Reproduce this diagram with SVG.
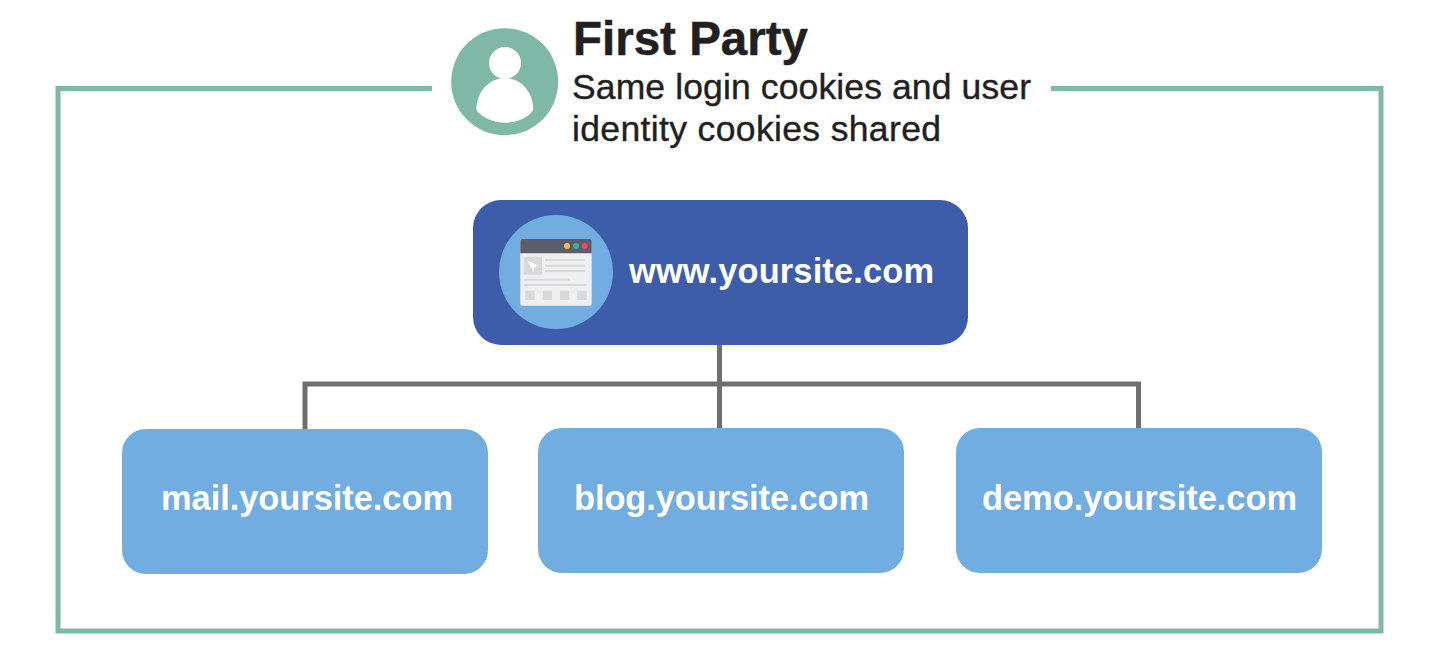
<svg xmlns="http://www.w3.org/2000/svg" width="1440" height="653" viewBox="0 0 1440 653">
<style>
text{font-family:"Liberation Sans",Arial,sans-serif}
.t{font-size:35.500px;fill:#231f20;stroke:#231f20;stroke-width:0.400px}
.l{font-size:34.400px;font-weight:700;fill:#fff}
.c{fill:none;stroke:#6f6f6f;stroke-width:5}
.b{fill:#71ade0}
.f{fill:#d9d8dc}
.g{fill:none;stroke:#d9d8dc;stroke-width:2}
</style>
<rect width="1440" height="653" fill="#fff"/>
<path id="frame" d="M432 88.500H58V631H1381V88.500H1051" fill="none" stroke="#80b8a8" stroke-width="5"/>
<g id="first-party">
<circle cx="504.700" cy="81.700" r="53.500" fill="#80b8a8"/>
<circle cx="505" cy="63" r="16" fill="#fff"/>
<path d="M476.300 110C476.300 92 489 78 505 78S533.300 92 533.300 110C528 118 516 122.700 505 122.700S482 118 476.300 110Z" fill="#fff"/>
<text x="573" y="55" font-size="47.500" font-weight="700" fill="#231f20" stroke="#231f20" stroke-width="0.500">First Party</text>
<text class="t" x="572" y="99" textLength="459">Same login cookies and user</text>
<text class="t" x="572" y="141" textLength="369">identity cookies shared</text>
</g>
<g id="connectors">
<path class="c" d="M719.500 345V428M305 430V384H1138.500V429"/>
</g>
<g id="www">
<rect x="473" y="200" width="495" height="145" rx="28" fill="#3d5daa"/>
<circle class="b" cx="556" cy="272" r="57"/>
<rect x="520.300" y="239" width="71.400" height="66.700" rx="2" fill="#efeff0"/>
<path d="M520.300 253.300V241a2 2 0 0 1 2-2H589.700a2 2 0 0 1 2 2V253.300Z" fill="#5b5c6c"/>
<circle cx="567" cy="246" r="3" fill="#f5bd4f"/>
<circle cx="576" cy="246" r="3" fill="#2fb5a0"/>
<circle cx="584.700" cy="246" r="3" fill="#ee4a60"/>
<rect class="f" x="523.700" y="256.700" width="18.300" height="18"/>
<path d="M527.500 260.500L538 265.500L534 267.500L533.500 272Z" fill="#fff"/>
<path class="g" d="M545 260H585M545 265.700H585M545 271H585M524 279.700H570M524 285H587"/>
<rect class="f" x="525.300" y="290.700" width="9.300" height="9.300"/>
<rect class="f" x="542.700" y="290.700" width="9.300" height="9.300"/>
<rect class="f" x="560" y="290.700" width="9.300" height="9.300"/>
<rect class="f" x="577.300" y="290.700" width="9.300" height="9.300"/>
<text class="l" x="629" y="283" textLength="305">www.yoursite.com</text>
</g>
<g id="mail">
<rect class="b" x="122" y="429" width="366" height="145" rx="24"/>
<text class="l" x="161" y="510" textLength="292">mail.yoursite.com</text>
</g>
<g id="blog">
<rect class="b" x="538" y="428" width="366" height="145" rx="24"/>
<text class="l" x="574" y="510" textLength="295">blog.yoursite.com</text>
</g>
<g id="demo">
<rect class="b" x="956" y="428" width="366" height="145" rx="24"/>
<text class="l" x="982" y="510" textLength="315">demo.yoursite.com</text>
</g>
</svg>
